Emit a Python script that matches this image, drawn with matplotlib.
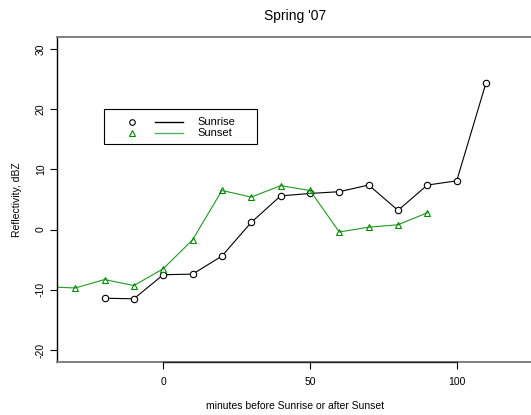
import matplotlib.pyplot as plt
from matplotlib.lines import Line2D
from matplotlib.patches import Rectangle

plt.rcParams['font.family'] = ['Liberation Sans', 'DejaVu Sans']

# minutes before sunrise / after sunset
sunrise_min = [-20, -10, 0, 10, 20, 30, 40, 50, 60, 70, 80, 90, 100, 110]
sunrise_dbz = [-11.4, -11.5, -7.5, -7.4, -4.4, 1.2, 5.6, 6.0, 6.3, 7.4, 3.2, 7.4, 8.1, 24.4]

sunset_min = [-40, -30, -20, -10, 0, 10, 20, 30, 40, 50, 60, 70, 80, 90]
sunset_dbz = [-9.5, -9.7, -8.3, -9.3, -6.5, -1.7, 6.5, 5.4, 7.3, 6.5, -0.4, 0.4, 0.8, 2.8]

W, H = 531, 415
fig = plt.figure(figsize=(W/100, H/100), dpi=100)
ax = fig.add_axes([57/W, 1-362/H, (533-57)/W, (362-37)/H])

green = '#1f9a1f'
ax.plot(sunrise_min, sunrise_dbz, color='black', lw=0.8, marker='o', ms=4.6,
        mfc='white', mec='black', mew=0.8)
ax.plot(sunset_min, sunset_dbz, color=green, lw=0.8, marker='^', ms=4.6,
        mfc='none', mec='#008800', mew=0.8)

ax.set_xlim(-36.2, 126)
ax.set_ylim(-22, 32)
ax.set_xticks([0, 50, 100])
ax.set_yticks([-20, -10, 0, 10, 20, 30])
ax.set_yticklabels(['-20', '-10', '0', '10', '20', '30'], rotation=90, va='center')
ax.tick_params(labelsize=7.5, length=5, width=0.8)
ax.tick_params(axis='x', pad=6)
ax.tick_params(axis='y', pad=3)

for s in ['top', 'bottom']:
    ax.spines[s].set_color('#808080')
    ax.spines[s].set_linewidth(1.4)
ax.spines['right'].set_visible(False)
ax.spines['left'].set_color('black')
ax.spines['left'].set_linewidth(1.0)
# axis line between first and last tick, as R draws it
ax.plot([0, 100], [-22, -22], color='#222222', lw=1.0, clip_on=False, zorder=5)

ax.set_title("Spring '07", fontsize=10, pad=12)
ax.set_xlabel('minutes before Sunrise or after Sunset', fontsize=7.5, labelpad=10)
ax.set_ylabel('Reflectivity, dBZ', fontsize=7.5, labelpad=10)

# legend drawn by hand, R style: symbol, line, text (positions in pixels)
def px(x, y):
    return x / W, 1 - y / H

tf = fig.transFigure
x0, y0 = px(104, 144)
x1, y1 = px(257, 109)
fig.add_artist(Rectangle((x0, y0), x1 - x0, y1 - y0, transform=tf,
                         fc='white', ec='black', lw=0.8, zorder=10))
rows = [('Sunrise', 121.5, 'o', 'white', 'black', 'black'),
        ('Sunset', 133.3, '^', 'none', '#008800', '#55b055')]
for name, ry, mk, mfc, mec, lc in rows:
    fig.add_artist(Line2D([px(132, ry)[0]], [px(132, ry)[1]], transform=tf, ls='none',
                          marker=mk, ms=4, mfc=mfc, mec=mec, mew=0.8, zorder=11))
    fig.add_artist(Line2D([px(155, ry)[0], px(183, ry)[0]], [px(155, ry)[1]] * 2,
                          transform=tf, color=lc, lw=1.0, zorder=11))
    fig.text(*px(197, ry), name, fontsize=8, va='center', ha='left', zorder=12)

fig.savefig('out.png', dpi=100)
